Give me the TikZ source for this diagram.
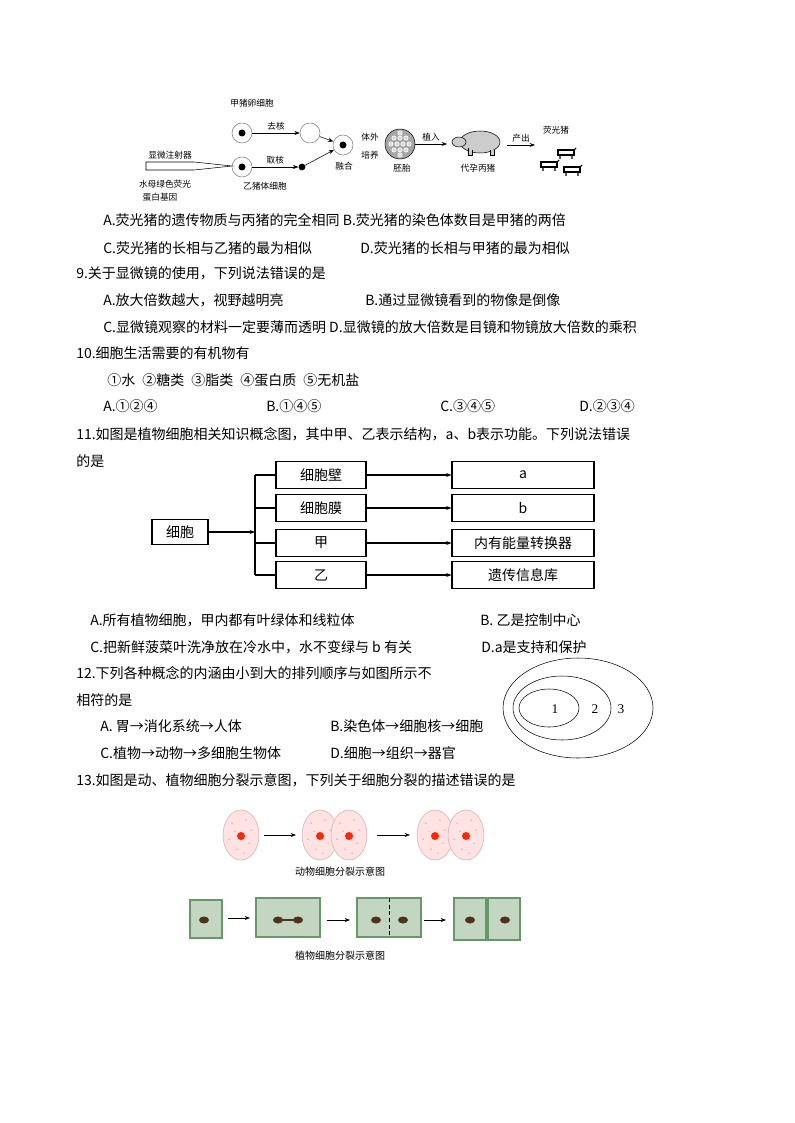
\documentclass[tikz,border=0pt]{standalone}
\usepackage{fontspec}
\setmainfont{Liberation Serif}
\newfontfamily\cjk{Noto Sans CJK SC}
\usetikzlibrary{arrows.meta,shapes.geometric}
\begin{document}
\begin{tikzpicture}[x=0.75pt,y=-0.75pt,
 txt/.style={anchor=west,inner sep=0,font=\cjk\fontsize{10.5}{12}\selectfont},
 sm/.style={inner sep=0,font=\cjk\fontsize{6.5}{7}\selectfont},
 captxt/.style={inner sep=0,font=\cjk\fontsize{7.5}{8}\selectfont},
 cbox/.style={draw,thick,minimum width=90*0.75pt,minimum height=27*0.75pt,inner sep=0,font=\cjk\fontsize{10.5}{12}\selectfont},
 rbox/.style={draw,thick,minimum width=142*0.75pt,minimum height=27*0.75pt,inner sep=0,font=\cjk\fontsize{10.5}{12}\selectfont},
 arr/.style={-{Stealth[length=4pt]}},
 cell/.style={draw=gray,fill=white},
 acell/.style={draw=pink!70!gray,fill=pink!45},
 pcell/.style={draw=green!20!gray,fill=green!20!gray!40,thick}]
\useasboundingbox (0,0) rectangle (794,1123);
% ---- top diagram
\node[sm] at (252,103) {甲猪卵细胞};
\node[cell,circle,minimum size=20*0.75pt,inner sep=0] (c1) at (242,133) {};
\fill (c1) circle (3.5);
\node[cell,circle,minimum size=20*0.75pt,inner sep=0] (c2) at (310,133) {};
\draw[arr] (c1) -- node[sm,above=2pt]{去核} (c2);
\node[cell,circle,minimum size=20*0.75pt,inner sep=0] (c3) at (242,167) {};
\fill (c3) circle (3.5);
\node[sm] at (170,155) {显微注射器};
\coordinate (nd) at (232,166);
\draw (146,162) -- (194,162) -- (nd) -- (194,170) -- (146,170) -- cycle;
\node[sm] at (165,184) {水母绿色荧光};
\node[sm] at (160,197) {蛋白基因};
\node[sm] at (265,186) {乙猪体细胞};
\node[circle,fill,inner sep=1.8pt] (d) at (302,167) {};
\draw[arr] (c3) -- node[sm,above=2pt]{取核} (d);
\node[cell,circle,minimum size=20*0.75pt,inner sep=0] (f) at (343,145) {};
\fill (f) circle (3.5);
\draw[arr] (c2) -- (f);
\draw[arr] (d) -- (f);
\node[sm] at (344,166) {融合};
\node[sm] at (370,137) {体外};
\node[sm] at (370,155) {培养};
\node[circle,draw,fill=gray!70,minimum size=30*0.75pt,inner sep=0] (e) at (400,144) {};
\foreach \a/\b in {-6/-6,0/-6,6/-6,-9/0,-3/0,3/0,9/0,-6/6,0/6,6/6,0/-11,0/11}{\draw[white,fill=gray!30] (400+\a,144+\b) circle (2.2);}
\draw[arr] (e) -- node[sm,above=2pt]{植入} (447,144);
\node[sm] at (402,168) {胚胎};
\node[draw,fill=gray!40,ellipse,minimum width=40*0.75pt,minimum height=22*0.75pt,inner sep=0] (pig) at (480,142) {};
\draw[fill=gray!40] (459,142) ellipse (7 and 5);
\draw[fill=gray!40] (468,148) -- (468,155) -- (472,155) -- (472,150);
\draw[fill=gray!40] (490,150) -- (490,155) -- (494,155) -- (494,150);
\node[sm] at (478,168) {代孕丙猪};
\draw[arr] (507,145) -- node[sm,above=2pt]{产出} (535,145);
\node[sm] at (556,130) {荧光猪};
\foreach \px/\py in {566/150,549/162,572/167}{\draw[thick] (\px-8,\py) rectangle (\px+8,\py+5); \draw[thick] (\px-6,\py+5)--(\px-6,\py+9) (\px+6,\py+5)--(\px+6,\py+9) (\px+8,\py)--(\px+10,\py-2);}
% ---- text
\node[txt] at (103,220) {A.荧光猪的遗传物质与丙猪的完全相同 B.荧光猪的染色体数目是甲猪的两倍};
\node[txt] at (103,248) {C.荧光猪的长相与乙猪的最为相似};
\node[txt] at (360,248) {D.荧光猪的长相与甲猪的最为相似};
\node[txt] at (76,273) {9.关于显微镜的使用，下列说法错误的是};
\node[txt] at (103,300) {A.放大倍数越大，视野越明亮};
\node[txt] at (365,300) {B.通过显微镜看到的物像是倒像};
\node[txt] at (103,327) {C.显微镜观察的材料一定要薄而透明 D.显微镜的放大倍数是目镜和物镜放大倍数的乘积};
\node[txt] at (76,353) {10.细胞生活需要的有机物有};
\node[txt] at (107,380) {①水\enspace ②糖类\enspace ③脂类\enspace ④蛋白质\enspace ⑤无机盐};
\node[txt] at (103,406) {A.①②④};
\node[txt] at (266,406) {B.①④⑤};
\node[txt] at (440,406) {C.③④⑤};
\node[txt] at (579,406) {D.②③④};
\node[txt] at (76,434) {11.如图是植物细胞相关知识概念图，其中甲、乙表示结构，a、b表示功能。下列说法错误};
\node[txt] at (76,461) {的是};
% ---- concept map
\node[draw,thick,minimum width=56*0.75pt,minimum height=25*0.75pt,inner sep=0,font=\cjk\fontsize{10.5}{12}\selectfont] (cb) at (180,532) {细胞};
\node[cbox] (l1) at (321,475) {细胞壁};
\node[cbox] (l2) at (321,508) {细胞膜};
\node[cbox] (l3) at (321,543) {甲};
\node[cbox] (l4) at (321,575) {乙};
\node[rbox] (r1) at (523,475) {a};
\node[rbox] (r2) at (523,508) {b};
\node[rbox] (r3) at (523,543) {内有能量转换器};
\node[rbox] (r4) at (523,575) {遗传信息库};
\coordinate (vt) at (255,475); \coordinate (vb) at (255,575);
\draw[thick] (vt) -- (vb);
\draw[thick,arr] (cb) -- (cb -| vt);
\foreach \i in {1,2,3,4}{\draw[thick] (l\i -| vt) -- (l\i); \draw[thick,arr] (l\i) -- (r\i);}
\node[txt] at (90,620) {A.所有植物细胞，甲内都有叶绿体和线粒体};
\node[txt] at (480,620) {B. 乙是控制中心};
\node[txt] at (90,647) {C.把新鲜菠菜叶洗净放在冷水中，水不变绿与 b 有关};
\node[txt] at (481,647) {D.a是支持和保护};
\node[txt] at (76,673) {12.下列各种概念的内涵由小到大的排列顺序与如图所示不};
\node[txt] at (76,700) {相符的是};
\draw (578,708) ellipse (75 and 50);
\draw (562,708) ellipse (49 and 32);
\draw (549,708) ellipse (30 and 19);
\node[inner sep=0] at (555,709) {1};
\node[inner sep=0] at (595,709) {2};
\node[inner sep=0] at (621,709) {3};
\node[txt] at (100,726) {A. 胃→消化系统→人体};
\node[txt] at (330,726) {B.染色体→细胞核→细胞};
\node[txt] at (100,753) {C.植物→动物→多细胞生物体};
\node[txt] at (330,753) {D.细胞→组织→器官};
\node[txt] at (76,780) {13.如图是动、植物细胞分裂示意图，下列关于细胞分裂的描述错误的是};
% ---- animal cells
\foreach \cx in {241,320,349,435,466}{\draw[acell] (\cx,835) ellipse (18 and 25); \fill[red!70!orange] (\cx,836) circle (4);
 \foreach \dx/\dy in {-9/-12,5/-15,10/-5,-12/4,8/8,-4/14,-6/-4,3/18}{\fill[blue!40!gray] (\cx+\dx,835+\dy) circle (0.5);}}
\draw[arr] (264,835) -- (296,835);
\draw[arr] (377,835) -- (410,835);
\node[captxt] at (340,872) {动物细胞分裂示意图};
% ---- plant cells
\draw[pcell] (190,900) rectangle (222,938);
\draw[pcell] (256,898) rectangle (320,937);
\draw[pcell] (357,898) rectangle (421,937);
\draw[densely dashed] (389,898) -- (389,937);
\draw[pcell] (454,898) rectangle (486,940);
\draw[pcell] (488,898) rectangle (520,940);
\foreach \cx in {204,278,298,376,403,470,505}{\fill[brown!40!black] (\cx,920) ellipse (5 and 3.5);}
\draw[brown!40!black,thick] (278,920) -- (298,920);
\draw[arr] (228,918) -- (250,918);
\draw[arr] (327,920) -- (350,920);
\draw[arr] (424,920) -- (446,920);
\node[captxt] at (340,956) {植物细胞分裂示意图};
\end{tikzpicture}
\end{document}
